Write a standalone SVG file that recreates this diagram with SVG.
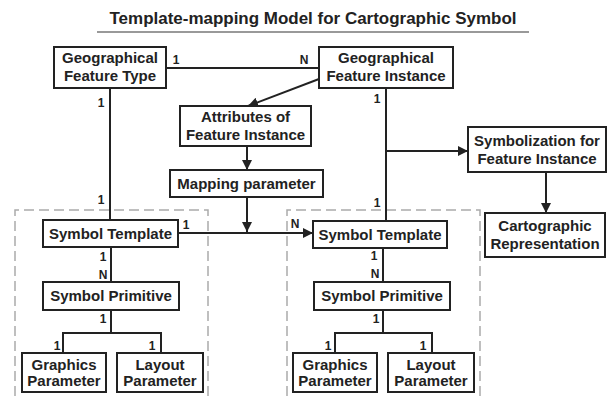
<svg xmlns="http://www.w3.org/2000/svg" width="607" height="396" viewBox="0 0 607 396">
<style>
.box{fill:#fff;stroke:#222;stroke-width:2}
.t{font-family:"Liberation Sans",Arial,sans-serif;font-weight:bold;font-size:15px;fill:#222;text-anchor:middle}
.lb{font-family:"Liberation Sans",Arial,sans-serif;font-weight:bold;font-size:12px;fill:#222;text-anchor:middle}
.ln{fill:none;stroke:#222;stroke-width:2}
.dash{fill:none;stroke:#aaa;stroke-width:1.5;stroke-dasharray:10 5}
</style>
<defs>
<marker id="ah" viewBox="0 0 10 10" refX="10" refY="5" markerWidth="5" markerHeight="5" orient="auto" markerUnits="strokeWidth">
<path d="M0,0 L10,5 L0,10 z" fill="#222"/>
</marker>
</defs>
<rect width="607" height="396" fill="#fff"/>
<g id="title">
<text x="313" y="24" class="t" style="font-size:16px" textLength="407" lengthAdjust="spacingAndGlyphs">Template-mapping Model for Cartographic Symbol</text>
<line x1="97" y1="32" x2="529" y2="32" stroke="#777" stroke-width="1.5"/>
</g>
<g id="dashed-regions">
<path class="dash" d="M15,396 V210 H208 V396"/>
<path class="dash" d="M287,396 V210 H480 V396"/>
</g>
<g id="connectors">
<line class="ln" x1="166" y1="68" x2="319" y2="68"/>
<line class="ln" x1="110" y1="88" x2="110" y2="220"/>
<line class="ln" x1="386" y1="88" x2="386" y2="221"/>
<line class="ln" x1="319" y1="79" x2="248" y2="106" marker-end="url(#ah)"/>
<line class="ln" x1="247" y1="146" x2="247" y2="170" marker-end="url(#ah)"/>
<line class="ln" x1="247" y1="197" x2="247" y2="232" marker-end="url(#ah)"/>
<line class="ln" x1="178" y1="233" x2="313" y2="233" marker-end="url(#ah)"/>
<line class="ln" x1="386" y1="151" x2="468" y2="151" marker-end="url(#ah)"/>
<line class="ln" x1="546" y1="172" x2="546" y2="213" marker-end="url(#ah)"/>
<line class="ln" x1="111" y1="247" x2="111" y2="282"/>
<path class="ln" d="M111,310 V333 M63,353 V333 H161 V353"/>
<line class="ln" x1="383" y1="248" x2="383" y2="282"/>
<path class="ln" d="M383,310 V333 M335,353 V333 H432 V353"/>
</g>
<g id="labels">
<text class="lb" x="176" y="64">1</text>
<text class="lb" x="304" y="64">N</text>
<text class="lb" x="101" y="107">1</text>
<text class="lb" x="377" y="103">1</text>
<text class="lb" x="101" y="204">1</text>
<text class="lb" x="377" y="207">1</text>
<text class="lb" x="186" y="229">1</text>
<text class="lb" x="295" y="228">N</text>
<text class="lb" x="103" y="261">1</text>
<text class="lb" x="103" y="279">N</text>
<text class="lb" x="374" y="260">1</text>
<text class="lb" x="375" y="278">N</text>
<text class="lb" x="103" y="323">1</text>
<text class="lb" x="376" y="323">1</text>
<text class="lb" x="57" y="350">1</text>
<text class="lb" x="152" y="350">1</text>
<text class="lb" x="328" y="350">1</text>
<text class="lb" x="423" y="350">1</text>
</g>
<g id="gft"><rect class="box" x="54" y="47" width="112" height="41"/><text class="t" x="110" y="63">Geographical</text><text class="t" x="110" y="81">Feature Type</text></g>
<g id="gfi"><rect class="box" x="319" y="47" width="134" height="41"/><text class="t" x="386" y="63">Geographical</text><text class="t" x="386" y="81">Feature Instance</text></g>
<g id="attr"><rect class="box" x="180" y="106" width="131" height="40"/><text class="t" x="245.5" y="122">Attributes of</text><text class="t" x="245.5" y="140">Feature Instance</text></g>
<g id="mapping"><rect class="box" x="170" y="170" width="153" height="27"/><text class="t" x="246.5" y="189">Mapping parameter</text></g>
<g id="symbolization"><rect class="box" x="468" y="127" width="138" height="45"/><text class="t" x="537" y="146">Symbolization for</text><text class="t" x="537" y="164">Feature Instance</text></g>
<g id="carto"><rect class="box" x="485" y="213" width="120" height="44"/><text class="t" x="545" y="231">Cartographic</text><text class="t" x="545" y="249">Representation</text></g>
<g id="st-left"><rect class="box" x="43" y="220" width="135" height="27"/><text class="t" x="110.5" y="239">Symbol Template</text></g>
<g id="st-right"><rect class="box" x="313" y="221" width="134" height="27"/><text class="t" x="380" y="240">Symbol Template</text></g>
<g id="sp-left"><rect class="box" x="43" y="282" width="136" height="28"/><text class="t" x="111" y="301">Symbol Primitive</text></g>
<g id="sp-right"><rect class="box" x="314" y="282" width="136" height="28"/><text class="t" x="382" y="301">Symbol Primitive</text></g>
<g id="gp-left"><rect class="box" x="22" y="353" width="84" height="39"/><text class="t" x="64" y="370">Graphics</text><text class="t" x="64" y="386">Parameter</text></g>
<g id="lp-left"><rect class="box" x="117" y="353" width="86" height="39"/><text class="t" x="160" y="370">Layout</text><text class="t" x="160" y="386">Parameter</text></g>
<g id="gp-right"><rect class="box" x="293" y="353" width="84" height="39"/><text class="t" x="335" y="370">Graphics</text><text class="t" x="335" y="386">Parameter</text></g>
<g id="lp-right"><rect class="box" x="388" y="353" width="86" height="39"/><text class="t" x="431" y="370">Layout</text><text class="t" x="431" y="386">Parameter</text></g>
</svg>
